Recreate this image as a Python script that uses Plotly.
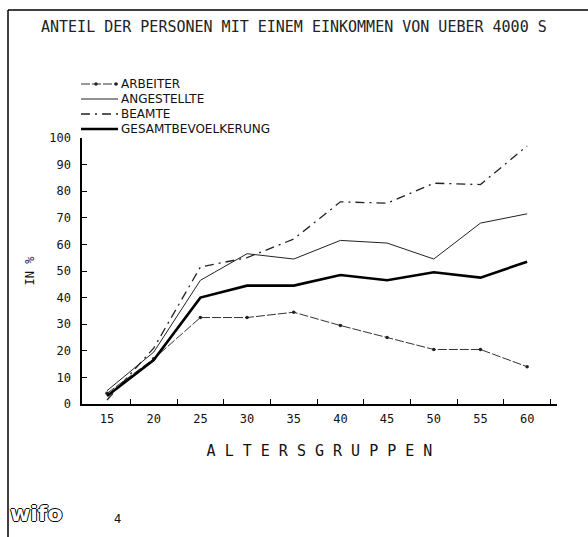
import plotly.graph_objects as go

# ---- data ----
age_groups = [15, 20, 25, 30, 35, 40, 45, 50, 55, 60]
arbeiter = [4, 17, 32.5, 32.5, 34.5, 29.5, 25, 20.5, 20.5, 14]
angestellte = [5, 19.5, 46.5, 56.5, 54.5, 61.5, 60.5, 54.5, 68, 71.5]
beamte = [1.5, 21, 51.5, 55, 62, 76, 75.5, 83, 82.5, 97]
gesamt = [3, 16.5, 40, 44.5, 44.5, 48.5, 46.5, 49.5, 47.5, 53.5]
y_ticks = [0, 10, 20, 30, 40, 50, 60, 70, 80, 90, 100]
x_boundary_ticks = [17.5, 22.5, 27.5, 32.5, 37.5, 42.5, 47.5, 52.5, 57.5, 62.5]

series_names = ["ARBEITER", "ANGESTELLTE", "BEAMTE", "GESAMTBEVOELKERUNG"]

title_text = "ANTEIL DER PERSONEN MIT EINEM EINKOMMEN VON UEBER 4000 S"
x_title = "A L T E R S G R U P P E N"
y_title = "IN %"

MONO = "DejaVu Sans Mono"
INK = "#111111"

styles = [
    dict(color="#333333", width=1, dash="9px,2px"),
    dict(color="#222222", width=1),
    dict(color="#222222", width=1.3, dash="9px,5px,2px,5px"),
    dict(color="#000000", width=2.6),
]

fig = go.Figure()
for name, vals, st in zip(series_names, [arbeiter, angestellte, beamte, gesamt], styles):
    fig.add_trace(go.Scatter(
        x=age_groups, y=vals, name=name,
        mode="lines+markers" if name == "ARBEITER" else "lines",
        line=st, marker=dict(size=3.5, color="#222222"),
        showlegend=False,
    ))

L, R, T, B = 82, 31, 138, 133
W, H = 588, 537
pw, ph = W - L - R, H - T - B


def px_x(px):
    return (px - L) / pw


def px_y(py):
    return (H - B - py) / ph


X_RANGE = [12.32, 63.2]
Y_RANGE = [0, 100]

fig.update_layout(
    width=W, height=H,
    margin=dict(l=L, r=R, t=T, b=B),
    paper_bgcolor="white", plot_bgcolor="white",
    font=dict(family=MONO, color=INK, size=12),
    showlegend=False,
    # tick-mark axes
    xaxis=dict(
        range=X_RANGE, tickmode="array", tickvals=x_boundary_ticks,
        ticktext=["" for _ in x_boundary_ticks],
        ticks="inside", ticklen=5, tickcolor="#000", tickwidth=1.2,
        showline=True, linecolor="#000", linewidth=1.6, mirror=False,
        showgrid=False, zeroline=False,
        title=dict(text=x_title, standoff=38,
                   font=dict(family=MONO, size=15, color=INK)),
    ),
    yaxis=dict(
        range=Y_RANGE, tickmode="array", tickvals=y_ticks,
        ticks="inside", ticklen=5, tickcolor="#000", tickwidth=1.3,
        showticklabels=False,
        showline=True, linecolor="#000", linewidth=1.6,
        showgrid=False, zeroline=False,
    ),
    # label axes
    xaxis2=dict(
        range=X_RANGE, overlaying="x", side="bottom", anchor="y",
        tickmode="array", tickvals=age_groups,
        ticktext=[str(a) for a in age_groups], ticks="",
        ticklabelstandoff=6,
        showline=False, showgrid=False, zeroline=False,
        tickfont=dict(family=MONO, size=12, color=INK),
    ),
    yaxis2=dict(
        range=Y_RANGE, overlaying="y", side="left", anchor="x",
        tickmode="array", tickvals=y_ticks, ticks="",
        ticklabelstandoff=10,
        showline=False, showgrid=False, zeroline=False,
        tickfont=dict(family=MONO, size=12, color=INK),
        title=dict(text=y_title, standoff=12,
                   font=dict(family=MONO, size=12, color=INK)),
    ),
)
# invisible carrier traces so the label axes are drawn
fig.add_trace(go.Scatter(x=age_groups, y=[None] * len(age_groups),
                         xaxis="x2", yaxis="y", mode="lines",
                         showlegend=False, hoverinfo="skip"))
fig.add_trace(go.Scatter(x=age_groups, y=[None] * len(age_groups),
                         xaxis="x", yaxis="y2", mode="lines",
                         showlegend=False, hoverinfo="skip"))

fig.add_annotation(
    text=title_text, xref="paper", yref="paper",
    x=px_x(294), y=px_y(27), xanchor="center", yanchor="middle",
    showarrow=False, font=dict(family=MONO, size=15, color="#222"),
)

# legend (drawn as key lines + labels)
legend_rows = [84, 99, 114, 129]
for name, st, ry in zip(series_names, styles, legend_rows):
    fig.add_shape(type="line", xref="paper", yref="paper",
                  x0=px_x(81), x1=px_x(118), y0=px_y(ry), y1=px_y(ry),
                  line=st)
    fig.add_annotation(
        text=name, xref="paper", yref="paper",
        x=px_x(119), y=px_y(ry), xanchor="left", yanchor="middle",
        showarrow=False, font=dict(family="DejaVu Sans", size=12, color=INK),
    )
for cx in (96, 116):
    fig.add_shape(type="circle", xref="paper", yref="paper",
                  x0=px_x(cx - 1.7), x1=px_x(cx + 1.7),
                  y0=px_y(legend_rows[0] - 1.7), y1=px_y(legend_rows[0] + 1.7),
                  fillcolor="#222", line=dict(width=0))

# page border (scan frame)
fig.add_shape(type="line", xref="paper", yref="paper",
              x0=px_x(8), x1=px_x(588), y0=px_y(10), y1=px_y(10),
              line=dict(color="#000", width=1.5))
fig.add_shape(type="line", xref="paper", yref="paper",
              x0=px_x(8), x1=px_x(8), y0=px_y(10), y1=px_y(537),
              line=dict(color="#000", width=1.5))

# logo and page number
fig.add_annotation(
    text="<b>wifo</b>", xref="paper", yref="paper",
    x=px_x(36), y=px_y(513), xanchor="center", yanchor="middle",
    showarrow=False,
    font=dict(family="DejaVu Sans", size=22, color="white",
              shadow="1px 0 0 #000, -1px 0 0 #000, 0 1px 0 #000, 0 -1px 0 #000"),
)
fig.add_annotation(
    text="4", xref="paper", yref="paper",
    x=px_x(117), y=px_y(519), xanchor="center", yanchor="middle",
    showarrow=False, font=dict(family=MONO, size=12, color=INK),
)

fig.write_html("out.html", config={"displayModeBar": False},
               post_script="document.body.style.margin='0';")
